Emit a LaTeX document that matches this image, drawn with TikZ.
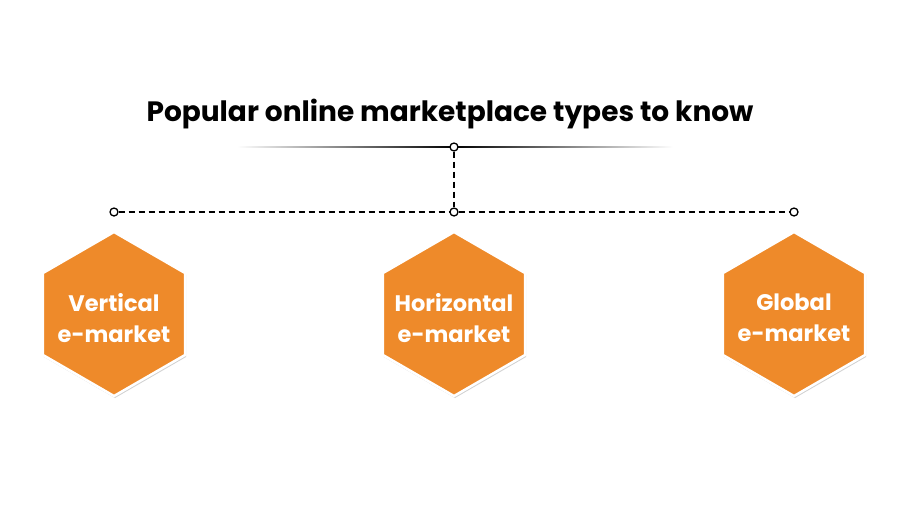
\documentclass[tikz,border=0pt]{standalone}
\usepackage{fontspec}
\setmainfont{Poppins}
\usetikzlibrary{shapes.geometric,positioning,shadows}

\definecolor{hexorange}{HTML}{EE8A2A}

\begin{document}
\begin{tikzpicture}[x=1pt,y=1pt,node distance=340pt,on grid,
	hexa/.style={regular polygon,regular polygon sides=6,shape border rotate=30,minimum size=164pt,inner sep=0pt,
		fill=hexorange,draw=white,line width=2.5pt,
		drop shadow={shadow xshift=1pt,shadow yshift=-2pt,opacity=0.18,fill=black},
		label={[text=white,font=\fontsize{22.5}{31}\selectfont\bfseries,align=center,yshift=-4pt]center:#1}},
	dot/.style={circle,draw=black,fill=white,line width=1.3pt,minimum size=8pt,inner sep=0pt},
	link/.style={dashed,line width=1.4pt,dash pattern=on 6pt off 4pt}]
	\useasboundingbox (0,0) rectangle (900,-517);
	\fill[white] (0,0) rectangle (900,-517);

	\node (title) at (450,-114) {\fontsize{28}{32}\selectfont\bfseries Popular online marketplace types to know};

	\shade[left color=white,right color=white,middle color=black] (237,-146.2) rectangle (673,-147.8);

	\node[hexa={Horizontal\\e-market}] (h_2) at (454,-314) {};
	\node[hexa={Vertical\\e-market}] (h_1) [left=of h_2] {};
	\node[hexa={Global\\e-market}] (h_3) [right=of h_2] {};

	\node[dot] (top) at (454,-147) {};
	\node[dot] (d_2) [above=102pt of h_2] {};
	\node[dot] (d_1) [above=102pt of h_1] {};
	\node[dot] (d_3) [above=102pt of h_3] {};

	\draw[link] (top) -- (d_2);
	\draw[link] (d_1) -- (d_2);
	\draw[link] (d_2) -- (d_3);
\end{tikzpicture}
\end{document}
